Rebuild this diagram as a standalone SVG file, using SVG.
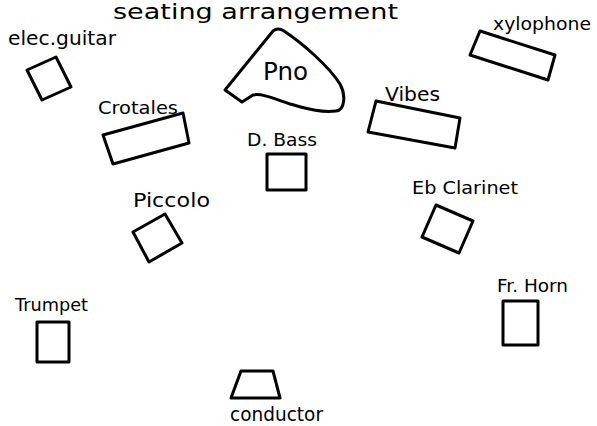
<svg xmlns="http://www.w3.org/2000/svg" width="597" height="426" viewBox="0 0 597 426">
<style>
.s{fill:none;stroke:#000;stroke-width:3;stroke-linejoin:round;stroke-linecap:round}
.t{font-family:"DejaVu Sans","Liberation Sans",sans-serif;fill:#000}
</style>
<rect width="597" height="426" fill="#fff"/>
<g id="title"><text class="t" x="113" y="19" font-size="22" textLength="285" lengthAdjust="spacingAndGlyphs">seating arrangement</text></g>
<g id="elec-guitar">
<text class="t" x="8" y="45" font-size="19" textLength="108" lengthAdjust="spacingAndGlyphs">elec.guitar</text>
<polygon class="s" points="27,70 56,57 71,87 42,100"/>
</g>
<g id="piano">
<path class="s" d="M273,31 Q278,27 284,31 C305,45 330,68 340,84 C346,95 345,110 336,111 C320,113 305,108 290,104 C275,99 262,93 253,95 L242,102 L225,90 Z"/>
<text class="t" x="263" y="80" font-size="25" textLength="45" lengthAdjust="spacingAndGlyphs">Pno</text>
</g>
<g id="xylophone">
<text class="t" x="493" y="30" font-size="18" textLength="98" lengthAdjust="spacingAndGlyphs">xylophone</text>
<polygon class="s" points="480,31 555,55 548,80 470,55"/>
</g>
<g id="crotales">
<text class="t" x="98" y="114" font-size="18" textLength="80" lengthAdjust="spacingAndGlyphs">Crotales</text>
<polygon class="s" points="103,135 183,113 189,143 113,164"/>
</g>
<g id="vibes">
<text class="t" x="385" y="101" font-size="20" textLength="55" lengthAdjust="spacingAndGlyphs">Vibes</text>
<polygon class="s" points="376,101 460,118 455,148 368,132"/>
</g>
<g id="d-bass">
<text class="t" x="247" y="146" font-size="18" textLength="70" lengthAdjust="spacingAndGlyphs">D. Bass</text>
<rect class="s" x="267" y="154" width="39" height="36"/>
</g>
<g id="piccolo">
<text class="t" x="133" y="207" font-size="20" textLength="77" lengthAdjust="spacingAndGlyphs">Piccolo</text>
<polygon class="s" points="133,232 165,214 182,243 149,262"/>
</g>
<g id="eb-clarinet">
<text class="t" x="412" y="194" font-size="18" textLength="106" lengthAdjust="spacingAndGlyphs">Eb Clarinet</text>
<polygon class="s" points="436,205 473,221 459,253 422,237"/>
</g>
<g id="fr-horn">
<text class="t" x="497" y="292" font-size="18" textLength="71" lengthAdjust="spacingAndGlyphs">Fr. Horn</text>
<rect class="s" x="503" y="301" width="35" height="44"/>
</g>
<g id="trumpet">
<text class="t" x="15" y="311" font-size="18" textLength="73" lengthAdjust="spacingAndGlyphs">Trumpet</text>
<rect class="s" x="37" y="322" width="32" height="40"/>
</g>
<g id="conductor">
<polygon class="s" points="241,371 273,371 280,398 231,398"/>
<text class="t" x="230" y="421" font-size="20" textLength="93" lengthAdjust="spacingAndGlyphs">conductor</text>
</g>
</svg>
